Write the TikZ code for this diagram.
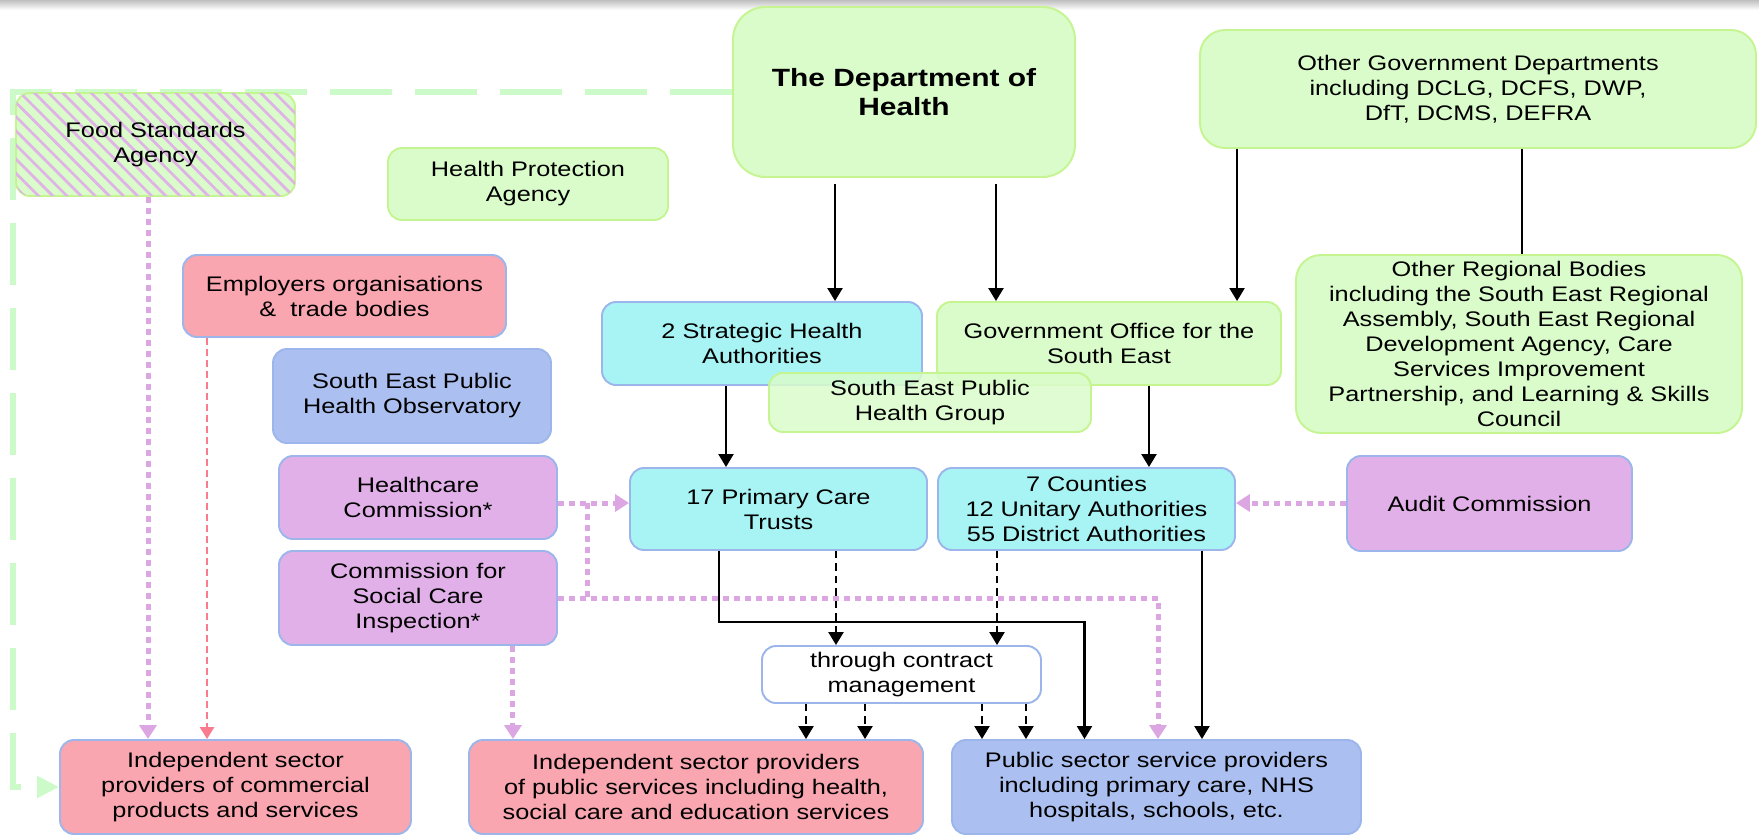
\documentclass[tikz,border=0pt]{standalone}
\usepackage{fontspec}
\setmainfont{Liberation Sans}[FakeStretch=1.2]
\usetikzlibrary{arrows.meta}
\usetikzlibrary{calc}
\usetikzlibrary{backgrounds}
\usetikzlibrary{patterns.meta}

\definecolor{grnfill}{HTML}{DAFCCB}
\definecolor{grnline}{HTML}{C4F590}
\definecolor{cyanfill}{HTML}{A8F4F4}
\definecolor{redfill}{HTML}{F9A6B0}
\definecolor{blufill}{HTML}{ABC0F0}
\definecolor{purfill}{HTML}{E2B0E8}
\definecolor{bluline}{HTML}{9CB6EC}
\definecolor{lilac}{HTML}{DBA6E2}
\definecolor{tradepink}{HTML}{F87C8E}
\definecolor{govgreen}{HTML}{CCFAC8}

\tikzset{
  box/.style={rounded corners=0.28cm, line width=1.1pt, align=center, inner sep=0pt,
    font=\fontsize{12}{14.2}\selectfont},
  wh/.style 2 args={minimum width=#1*0.02cm, minimum height=#2*0.02cm},
  greenbox/.style={box, draw=grnline, fill=grnfill},
  cyanbox/.style={box, draw=bluline, fill=cyanfill},
  redbox/.style={box, draw=bluline, fill=redfill},
  bluebox/.style={box, draw=bluline, fill=blufill},
  purplebox/.style={box, draw=bluline, fill=purfill},
  plainbox/.style={box, draw=bluline, fill=white},
  flow/.style={line width=1.3pt, -{Triangle[width=0.3cm,length=0.26cm]}},
  contract/.style={flow, dash pattern=on 0.15cm off 0.1cm},
  inspect/.style={color=lilac, line width=0.1cm, dash pattern=on 0.12cm off 0.1cm},
  inspectflow/.style={inspect, -{Triangle[width=0.34cm,length=0.28cm]}},
  tradeflow/.style={color=tradepink, line width=1.5pt, dash pattern=on 0.14cm off 0.08cm,
    -{Triangle[width=0.28cm,length=0.24cm]}},
  govlink/.style={color=govgreen, line width=0.13cm, dash pattern=on 1.24cm off 0.46cm,
    -{Triangle[width=0.42cm,length=0.44cm]}}
}

\begin{document}
\begin{tikzpicture}[x=0.02cm, y=-0.02cm]
  \useasboundingbox (0,0) rectangle (1759,836);
  \shade[top color=black!25, bottom color=white] (0,0) rectangle (1759,10);

  %government
  \node[greenbox, wh={342}{170}, rounded corners=0.65cm,
    font=\fontsize{14.2}{16.5}\selectfont\bfseries] (doh) at (904,92) {The Department of\\Health};
  \node[greenbox, wh={556}{118}, rounded corners=0.5cm] (ogd) at (1478,89)
    {Other Government Departments\\including DCLG, DCFS, DWP,\\DfT, DCMS, DEFRA};
  \node[greenbox, wh={279}{103},
    postaction={pattern={Lines[angle=-45,distance=0.2cm,line width=0.055cm]}, pattern color=lilac!85}]
    (fsa) at (155.5,144.5) {Food Standards\\Agency};
  \node[greenbox, wh={280}{72}] (hpa) at (528,184) {Health Protection\\Agency};

  %regional
  \node[redbox, wh={323}{82}] (emp) at (344.5,296) {Employers organisations\\\&\ \ trade bodies};
  \node[bluebox, wh={278}{94}] (sepho) at (412,396) {South East Public\\Health Observatory};
  \node[cyanbox, wh={320}{83}] (sha) at (762,343.5) {2 Strategic Health\\Authorities};
  \node[greenbox, wh={344}{83}] (gose) at (1109,343.5) {Government Office for the\\South East};
  \node[greenbox, wh={322}{59}, fill opacity=0.85, text opacity=1] (sephg) at (930,402.5)
    {South East Public\\Health Group};
  \node[greenbox, wh={446}{178}, rounded corners=0.5cm] (orb) at (1519,344)
    {Other Regional Bodies\\including the South East Regional\\Assembly, South East Regional\\Development Agency, Care\\Services Improvement\\Partnership, and Learning \& Skills\\Council};

  %local
  \node[purplebox, wh={278}{83}] (hcc) at (418,497.5) {Healthcare\\Commission*};
  \node[purplebox, wh={278}{94}] (csci) at (418,598) {Commission for\\Social Care\\Inspection*};
  \node[cyanbox, wh={297}{82}] (pct) at (778.5,509) {17 Primary Care\\Trusts};
  \node[cyanbox, wh={297}{82}] (cty) at (1086.5,509) {7 Counties\\12 Unitary Authorities\\55 District Authorities};
  \node[purplebox, wh={285}{95}] (audit) at (1489.5,503.5) {Audit Commission};
  \node[plainbox, wh={279}{57}] (cmgmt) at (901.5,674.5) {through contract\\management};

  %providers
  \node[redbox, wh={351}{94}] (isc) at (235.5,787)
    {Independent sector\\providers of commercial\\products and services};
  \node[redbox, wh={454}{94}] (isp) at (696,787)
    {Independent sector providers\\of public services including health,\\social care and education services};
  \node[bluebox, wh={409}{94}] (psp) at (1156.5,787)
    {Public sector service providers\\including primary care, NHS\\hospitals, schools, etc.};

  %top down
  \coordinate (d1) at ([xshift=-1.38cm,yshift=-0.12cm]doh.south);
  \coordinate (d2) at ([xshift=1.84cm,yshift=-0.12cm]doh.south);
  \coordinate (o1) at ([xshift=-4.82cm]ogd.south);
  \coordinate (o2) at ([xshift=0.88cm]ogd.south);
  \coordinate (s1) at ([xshift=-0.72cm]sha.south);
  \coordinate (g1) at ([xshift=0.8cm]gose.south);
  \draw[flow] (d1) -- (d1 |- sha.north);
  \draw[flow] (d2) -- (d2 |- gose.north);
  \draw[flow] (o1) -- (o1 |- gose.north);
  \draw[line width=1.3pt] (o2) -- (o2 |- orb.north);
  \draw[flow] (s1) -- (s1 |- pct.north);
  \draw[flow] (g1) -- (g1 |- cty.north);

  %to providers
  \coordinate (p1) at ([xshift=-1.19cm]pct.south);
  \coordinate (p2) at ([xshift=1.15cm]pct.south);
  \coordinate (c1) at ([xshift=-1.79cm]cty.south);
  \coordinate (c2) at ([xshift=2.31cm]cty.south);
  \coordinate (bend) at (1084.5,622);
  \draw[flow] (p1) |- (bend) -- (bend |- psp.north);
  \draw[flow] (c2) -- (c2 |- psp.north);
  \draw[contract] (p2) -- (p2 |- cmgmt.north);
  \draw[contract] (c1) -- (c1 |- cmgmt.north);
  \foreach \dx in {-1.91,-0.73} {
    \coordinate (t) at ([xshift=\dx cm]cmgmt.south);
    \draw[contract] (t) -- (t |- isp.north);
  }
  \foreach \dx in {1.61,2.49} {
    \coordinate (t) at ([xshift=\dx cm]cmgmt.south);
    \draw[contract] (t) -- (t |- psp.north);
  }

  %inspection
  \coordinate (hcline) at (587,503);
  \draw[inspectflow] (hcc.east |- hcline) -- (pct.west |- hcline);
  \draw[inspect] (hcline) -- (hcline |- csci.east);
  \draw[inspectflow] (csci.east) -| ([xshift=0.03cm]psp.north);
  \draw[inspectflow] (audit.west |- hcline) -- (cty.east |- hcline);
  \coordinate (f1) at ([xshift=-0.15cm]fsa.south);
  \draw[inspectflow] (f1) -- (f1 |- isc.north);
  \coordinate (k1) at ([xshift=1.9cm]csci.south);
  \draw[inspectflow] (k1) -- (k1 |- isp.north);
  \coordinate (e1) at ([xshift=-2.75cm]emp.south);
  \draw[tradeflow] (e1) -- (e1 |- isc.north);

  %food standards link
  \coordinate (gcorner) at (13,787);
  \begin{scope}[on background layer]
    \draw[govlink] (doh.west) -| (gcorner) -- (isc.west);
  \end{scope}
\end{tikzpicture}
\end{document}
